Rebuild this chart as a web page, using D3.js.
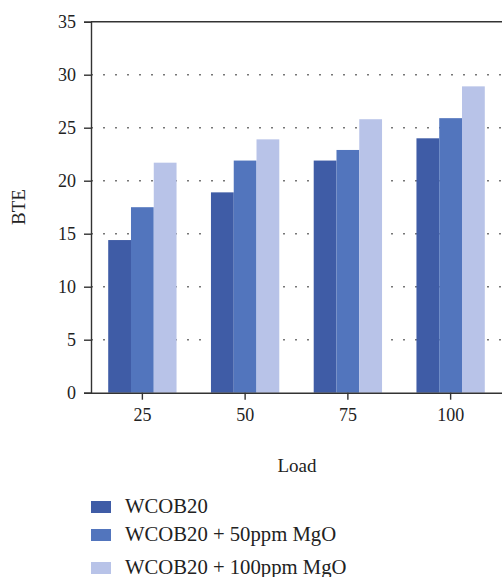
<!DOCTYPE html>
<html>
<head>
<meta charset="utf-8">
<script src="https://cdn.jsdelivr.net/npm/d3@7"></script>
<style>
  html, body { margin: 0; padding: 0; background: #fff; }
  svg { display: block; }
  text { font-family: "Liberation Serif", "Times New Roman", serif; fill: #222; }
</style>
</head>
<body>
<svg id="chart" width="502" height="577"></svg>
<script>
const categories = ["25", "50", "75", "100"];
const seriesNames = ["WCOB20", "WCOB20 + 50ppm MgO", "WCOB20 + 100ppm MgO"];
const wcob20 = [14.4, 18.9, 21.9, 24.0];
const wcob20_50 = [17.5, 21.9, 22.9, 25.9];
const wcob20_100 = [21.7, 23.9, 25.8, 28.9];
const yTicks = [0, 5, 10, 15, 20, 25, 30, 35];
const colors = ["#3f5ca6", "#5275bd", "#b8c3e8"];

const series = [wcob20, wcob20_50, wcob20_100];

const svg = d3.select("#chart");
const pLeft = 91, pRight = 502, pTop = 21.7, pBottom = 392.7;

const x = d3.scaleBand().domain(categories).range([pLeft, pRight]).paddingInner(0.335).paddingOuter(0.1675);
const xs = d3.scaleBand().domain(d3.range(series.length)).range([0, x.bandwidth()]);
const y = d3.scaleLinear().domain([0, 35]).range([pBottom, pTop]);

// gridlines
svg.append("g").selectAll("line").data(yTicks.filter(t => t > 0 && t < 35)).join("line")
  .attr("x1", pLeft).attr("x2", pRight)
  .attr("y1", d => y(d)).attr("y2", d => y(d))
  .attr("stroke", "#777").attr("stroke-width", 1.6)
  .attr("stroke-dasharray", "2,10");

// bars
const g = svg.append("g");
series.forEach((vals, si) => {
  g.append("g").selectAll("rect").data(vals).join("rect")
    .attr("x", (d, i) => x(categories[i]) + xs(si))
    .attr("width", xs.bandwidth())
    .attr("y", d => y(d))
    .attr("height", d => y(0) - y(d))
    .attr("fill", colors[si]);
});

// top frame line
svg.append("line").attr("x1", pLeft).attr("x2", pRight).attr("y1", pTop).attr("y2", pTop)
  .attr("stroke", "#333").attr("stroke-width", 1.4);

// y axis
const yAxis = svg.append("g").attr("transform", `translate(${pLeft},0)`)
  .call(d3.axisLeft(y).tickValues(yTicks).tickSize(7).tickPadding(8));
yAxis.select(".domain").attr("stroke", "#333").attr("stroke-width", 1.4);
yAxis.selectAll(".tick line").attr("stroke", "#333").attr("stroke-width", 1.4);
yAxis.selectAll("text").attr("font-size", 18).attr("font-family", "Liberation Serif").attr("fill", "#222");

// x axis
const xAxis = svg.append("g").attr("transform", `translate(0,${pBottom})`)
  .call(d3.axisBottom(x).tickSize(7).tickPadding(9).tickSizeOuter(0));
xAxis.select(".domain").attr("stroke", "#333").attr("stroke-width", 1.4);
xAxis.selectAll(".tick line").attr("stroke", "#333").attr("stroke-width", 1.4);
xAxis.selectAll("text").attr("font-size", 18).attr("font-family", "Liberation Serif").attr("fill", "#222");

// axis titles
svg.append("text").attr("transform", `translate(25,207) rotate(-90)`)
  .attr("text-anchor", "middle").attr("font-size", 19).text("BTE");
svg.append("text").attr("x", 297).attr("y", 472)
  .attr("text-anchor", "middle").attr("font-size", 19).text("Load");

// legend
const legendY = [501, 529, 562];
const lg = svg.append("g");
seriesNames.forEach((name, i) => {
  lg.append("rect").attr("x", 91).attr("y", legendY[i]).attr("width", 20).attr("height", 12)
    .attr("fill", colors[i]);
  lg.append("text").attr("x", 125).attr("y", legendY[i] + 12).attr("font-size", 20.7).text(name);
});
</script>
</body>
</html>
